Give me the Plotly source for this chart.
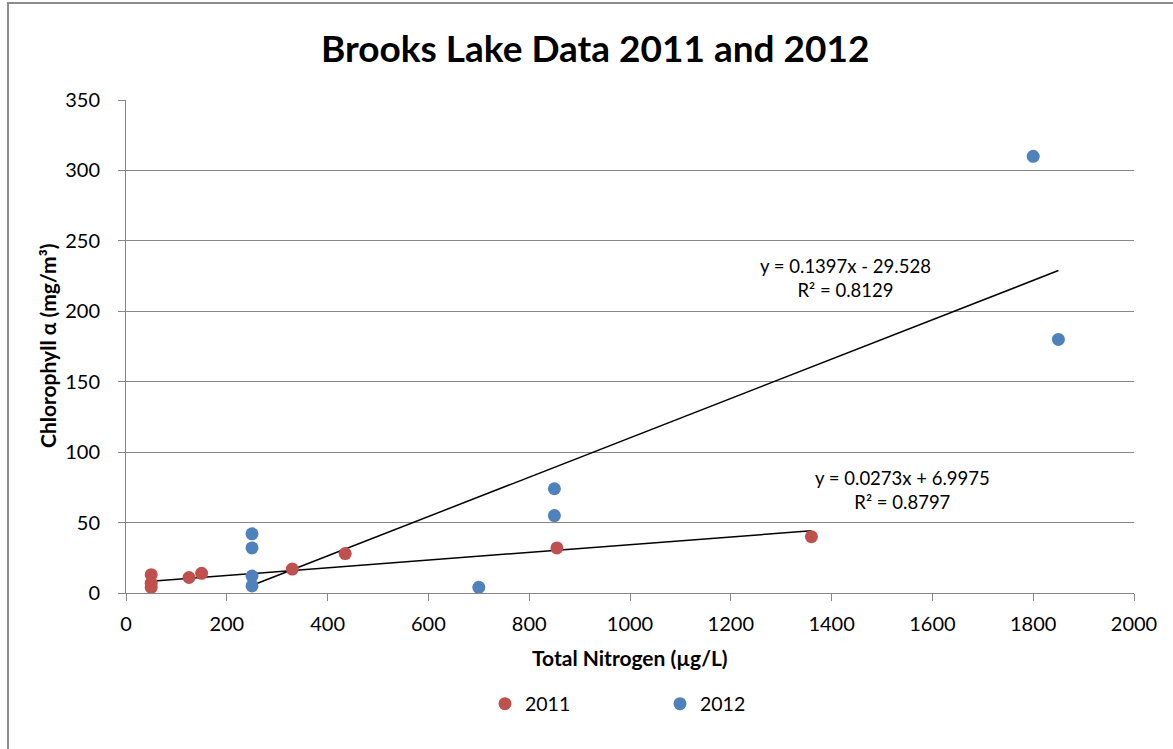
import plotly.graph_objects as go

# Total nitrogen (µg/L) and chlorophyll-a (mg/m³) samples by year
tn_2011 = [50, 50, 50, 125, 150, 330, 435, 855, 1360]
chl_2011 = [13, 7, 4, 11, 14, 17, 28, 32, 40]

tn_2012 = [250, 250, 250, 250, 700, 850, 850, 1800, 1850]
chl_2012 = [42, 32, 12, 5, 4, 74, 55, 310, 180]

# Linear trendline fits: slope, intercept, R²
fit_2011 = (0.0273, 6.9975, 0.8797)
fit_2012 = (0.1397, -29.528, 0.8129)

x_ticks = list(range(0, 2001, 200))
y_ticks = list(range(0, 351, 50))

RED = "#C0504D"
BLUE = "#4F81BD"
GRID = "#878787"
FONT = "Lato, Carlito, 'Open Sans', sans-serif"


def trend_line(xs, fit):
    lo, hi = min(xs), max(xs)
    m, b, _ = fit
    return [lo, hi], [m * lo + b, m * hi + b]


def eq_text(fit):
    m, b, r2 = fit
    sign = "-" if b < 0 else "+"
    return f"y = {m:g}x {sign} {abs(b):g}<br>R² = {r2:g}"


fig = go.Figure()

for xs, fit in ((tn_2011, fit_2011), (tn_2012, fit_2012)):
    tx, ty = trend_line(xs, fit)
    fig.add_trace(go.Scatter(x=tx, y=ty, mode="lines", showlegend=False,
                             line=dict(color="black", width=1.5), hoverinfo="skip"))

fig.add_trace(go.Scatter(x=tn_2011, y=chl_2011, mode="markers", name="2011",
                         marker=dict(color=RED, size=13)))
fig.add_trace(go.Scatter(x=tn_2012, y=chl_2012, mode="markers", name="2012",
                         marker=dict(color=BLUE, size=13)))

# Plot-area pixel geometry: x 126..1134, y 100..593 in a 1173x749 page
L, R, T, B = 126, 1134, 100, 593
W, H = R - L, B - T


def px(x):
    return (x - L) / W


def py(y):
    return (B - y) / H


annotations = [
    dict(text="<b>Brooks Lake Data 2011 and 2012</b>", x=px(595), y=py(47),
         font=dict(size=37, color="black", family=FONT)),
    dict(text="<b>Total Nitrogen (µg/L)</b>", x=px(630), y=py(657),
         font=dict(size=21, color="black", family=FONT)),
    dict(text="<b>Chlorophyll α (mg/m³)</b>", x=px(47), y=py(346), textangle=-90,
         font=dict(size=21, color="black", family=FONT)),
    dict(text=eq_text(fit_2012), x=px(845), y=py(278),
         font=dict(size=18.5, color="black", family=FONT)),
    dict(text=eq_text(fit_2011), x=px(902), y=py(490),
         font=dict(size=18.5, color="black", family=FONT)),
]
for a in annotations:
    a.update(xref="paper", yref="paper", showarrow=False,
             xanchor="center", yanchor="middle")

fig.update_layout(
    width=1173, height=749,
    margin=dict(l=L, r=1173 - R, t=T, b=749 - B),
    paper_bgcolor="white", plot_bgcolor="white",
    font=dict(family=FONT, size=20, color="black"),
    annotations=annotations,
    showlegend=True,
    legend=dict(orientation="h", x=px(485), y=py(704), xanchor="left",
                yanchor="middle", font=dict(size=19.5, color="black", family=FONT),
                entrywidth=130, itemsizing="trace"),
    shapes=[dict(type="rect", xref="paper", yref="paper",
                 x0=px(8), x1=px(1190), y0=py(770), y1=py(3),
                 line=dict(color="#8C8C8C", width=2), layer="below")],
    xaxis=dict(range=[0, 2000], tickvals=x_ticks, showgrid=False,
               showline=True, linecolor=GRID, linewidth=1,
               ticks="outside", ticklen=7, tickcolor=GRID,
               ticklabelstandoff=6,
               zeroline=False, mirror=False, fixedrange=True),
    yaxis=dict(range=[0, 350], tickvals=y_ticks, showgrid=True,
               gridcolor=GRID, gridwidth=1,
               showline=True, linecolor=GRID, linewidth=1,
               ticks="outside", ticklen=7, tickcolor=GRID,
               ticklabelstandoff=14,
               zeroline=False, fixedrange=True),
)

fig.write_html("out.html")
